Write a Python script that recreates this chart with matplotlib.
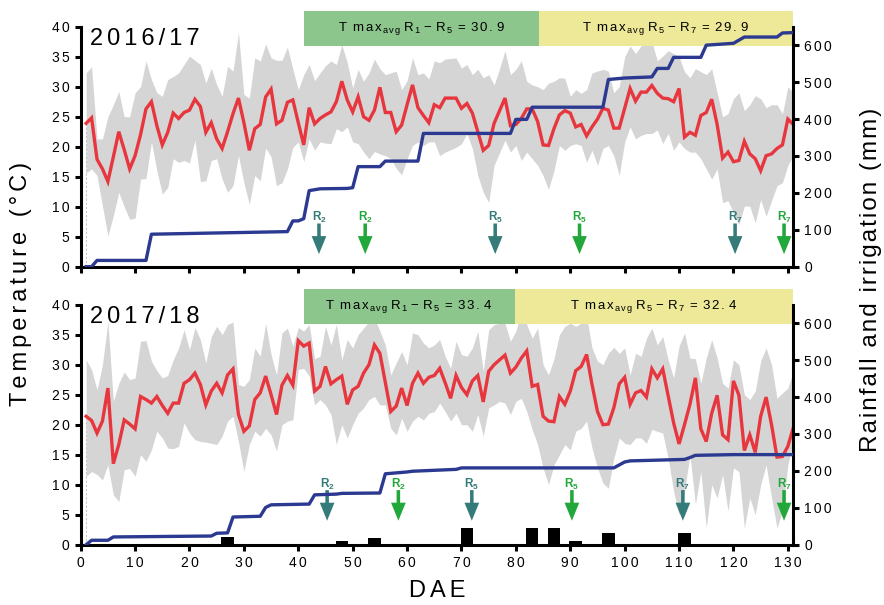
import numpy as np
import matplotlib
matplotlib.use("Agg")
import matplotlib.pyplot as plt
from matplotlib.patches import Rectangle, FancyArrow

plt.rcParams["font.family"] = ["Liberation Sans", "DejaVu Sans"]
plt.rcParams["mathtext.fontset"] = "custom"
plt.rcParams["mathtext.rm"] = "Liberation Sans"
plt.rcParams["mathtext.bf"] = "Liberation Sans:bold"
plt.rcParams["mathtext.it"] = "Liberation Sans:italic"

# ---------------------------------------------------------------------------
# Data
# ---------------------------------------------------------------------------
days = np.arange(1, 132)

# 2016/17 mean temperature and max/min envelope (deg C)
tmean_1617 = [23.9, 24.8, 17.9, 16.3, 14.2, 18.3, 22.5, 19.5, 16.3, 18.5,
              22.0, 26.3, 27.5, 23.5, 20.3, 22.4, 25.6, 24.7, 25.7, 26.1,
              27.9, 26.7, 22.4, 24.0, 21.3, 19.7, 22.5, 25.5, 28.1, 24.0,
              19.4, 23.0, 23.7, 28.3, 29.6, 23.8, 24.4, 27.4, 27.8, 24.0,
              20.3, 26.5, 23.8, 24.7, 25.3, 25.8, 27.5, 30.9, 27.8, 25.8,
              28.3, 25.0, 24.4, 26.1, 29.9, 25.7, 25.7, 22.5, 23.6, 27.0,
              30.3, 26.5, 25.2, 24.0, 27.0, 26.5, 28.1, 28.1, 28.1, 26.4,
              27.2, 25.6, 22.5, 19.4, 20.2, 23.9, 26.0, 28.1, 23.5, 23.7,
              24.7, 26.3, 26.3, 24.2, 20.3, 20.2, 23.0, 25.3, 26.0, 25.6,
              23.3, 23.7, 21.8, 23.3, 24.6, 26.4, 26.1, 23.1, 23.1, 26.4,
              29.7, 27.6, 29.1, 29.1, 30.2, 28.9, 28.1, 28.0, 27.5, 29.7,
              21.6, 22.4, 21.9, 25.2, 25.7, 27.9, 23.7, 18.1, 19.1, 17.5,
              17.7, 20.9, 18.8, 18.0, 16.0, 18.5, 18.8, 19.7, 20.3, 24.6, 23.7]
tmax_1617 = [32.3, 33.3, 21.3, 21.3, 25.0, 27.0, 29.2, 25.0, 25.0, 29.0,
             30.0, 34.3, 31.2, 29.0, 28.4, 31.2, 31.7, 32.3, 33.7, 35.1,
             34.4, 33.7, 30.6, 33.1, 30.3, 28.4, 33.4, 32.6, 39.0, 28.7,
             28.1, 34.8, 34.3, 37.1, 34.8, 34.4, 34.4, 36.6, 32.9, 29.5,
             32.0, 33.7, 31.0, 32.3, 33.5, 34.3, 33.7, 37.0, 34.0, 29.8,
             32.9, 30.9, 32.3, 34.6, 33.0, 32.0, 32.3, 32.6, 29.5, 31.0,
             34.8, 32.0, 32.3, 31.3, 34.3, 34.0, 34.6, 34.7, 34.8, 33.1,
             33.7, 32.0, 32.9, 31.5, 32.0, 30.3, 33.0, 36.0, 32.0, 32.9,
             34.3, 30.9, 30.3, 30.0, 29.5, 30.6, 30.9, 31.5, 31.4, 28.4,
             29.5, 28.9, 29.5, 32.3, 32.6, 32.9, 32.6, 29.0, 30.0, 35.0,
             36.8, 35.5, 36.8, 37.1, 37.5, 34.3, 35.1, 36.0, 35.5, 35.0,
             32.5, 31.5, 33.0, 32.5, 32.0, 33.0, 29.0, 25.0, 25.5, 28.0,
             29.0, 26.0, 27.0, 28.5, 28.0, 26.5, 27.0, 27.0, 25.5, 30.0, 29.0]
tmin_1617 = [15.6, 16.3, 15.2, 10.1, 5.1, 8.5, 12.4, 10.0, 7.9, 8.1,
             14.6, 14.7, 20.8, 16.0, 12.1, 13.2, 18.0, 17.4, 17.7, 17.3,
             21.1, 14.2, 14.3, 17.7, 18.0, 14.6, 12.4, 13.5, 18.5, 14.0,
             10.4, 15.2, 14.3, 19.8, 18.3, 13.5, 14.0, 16.3, 19.9, 20.8,
             17.5, 21.3, 19.4, 20.8, 20.6, 20.5, 23.0, 22.5, 23.3, 20.8,
             20.5, 19.1, 18.0, 19.2, 18.8, 18.5, 18.0, 16.4, 15.3, 18.0,
             20.2, 20.8, 20.2, 20.8, 20.8, 18.5, 19.1, 19.5, 19.9, 20.5,
             22.2, 19.7, 15.2, 12.4, 10.7, 16.9, 19.0, 21.1, 19.1, 20.2,
             17.7, 19.1, 18.0, 16.9, 15.2, 12.9, 16.0, 20.2, 19.4, 20.2,
             20.5, 20.2, 17.4, 19.4, 16.9, 19.7, 20.2, 18.5, 15.2, 20.8,
             23.3, 21.3, 21.9, 22.2, 22.2, 22.8, 20.5, 22.2, 19.4, 20.8,
             19.7, 19.1, 19.1, 18.0, 16.3, 14.6, 16.3, 10.7, 11.0, 9.0,
             7.0, 10.1, 10.1, 7.3, 11.2, 8.4, 11.0, 13.5, 14.0, 16.9, 18.5]

# 2016/17 cumulative rainfall + irrigation (mm)
cum_days_1617 = [1, 2, 3, 12, 13, 38, 39, 40, 41, 42, 44, 49, 50, 51, 55, 56, 62, 63,
                 79, 80, 82, 83, 96, 97, 100, 105, 106, 108, 109, 114, 115, 120, 122,
                 128, 129, 131]
cum_1617 = [0, 0, 17, 17, 88, 95, 124, 124, 130, 206, 211, 212, 214, 271, 271, 286,
            286, 361, 361, 399, 399, 432, 432, 507, 511, 514, 537, 537, 567, 567,
            600, 605, 622, 622, 633, 634]
rain_days_1617 = [32, 73]
rain_1617 = [3, 3]

# 2017/18
tmean_1718 = [21.4, 20.7, 18.6, 20.6, 26.1, 13.5, 16.7, 20.8, 20.1, 19.3,
              24.7, 24.2, 23.6, 24.7, 23.2, 21.9, 23.6, 23.6, 26.9, 27.5,
              28.6, 26.7, 23.3, 25.6, 26.9, 25.3, 28.3, 29.3, 21.7, 18.9,
              19.8, 24.2, 25.3, 28.1, 25.0, 21.7, 26.6, 28.2, 26.6, 34.0,
              33.1, 33.6, 25.6, 26.4, 29.7, 26.8, 27.5, 28.1, 23.4, 25.8,
              26.4, 28.6, 30.0, 33.3, 31.9, 27.0, 22.2, 23.1, 26.1, 23.2,
              26.9, 28.6, 26.9, 27.9, 28.2, 29.4, 27.0, 24.4, 28.2, 26.2,
              25.0, 27.3, 28.2, 23.8, 28.9, 30.0, 30.8, 31.6, 28.6, 29.6,
              31.1, 32.3, 26.4, 26.7, 21.4, 20.6, 20.5, 24.7, 23.4, 25.6,
              29.0, 29.7, 31.7, 26.7, 22.2, 20.0, 20.1, 22.8, 26.8, 27.9,
              23.4, 25.3, 25.7, 24.6, 29.3, 27.8, 29.3, 24.8, 20.3, 16.8,
              20.0, 23.4, 27.8, 19.3, 17.2, 21.9, 24.9, 18.3, 17.5, 27.3,
              24.9, 15.7, 18.3, 15.4, 21.4, 24.6, 20.0, 14.6, 14.7, 16.4, 19.5]
tmax_1718 = [30.8, 29.2, 25.8, 30.0, 37.2, 23.9, 26.9, 28.8, 27.5, 27.8,
             33.9, 34.0, 30.6, 29.0, 27.8, 28.2, 30.8, 32.8, 35.8, 32.5,
             36.2, 34.2, 30.3, 34.7, 36.4, 35.0, 36.7, 37.1, 26.7, 26.4,
             27.5, 32.8, 31.4, 36.9, 31.7, 28.3, 35.3, 36.1, 33.1, 36.2,
             35.6, 36.7, 31.0, 31.4, 36.4, 33.3, 36.7, 30.8, 34.2, 32.8,
             35.0, 36.1, 37.2, 37.8, 35.6, 33.3, 28.3, 30.3, 32.2, 30.0,
             35.3, 35.0, 33.6, 32.8, 33.3, 34.2, 31.4, 29.4, 33.9, 31.7,
             31.4, 32.8, 35.6, 28.9, 35.8, 36.7, 36.9, 36.9, 33.9, 35.6,
             38.9, 36.7, 34.4, 36.1, 30.0, 28.3, 31.0, 35.0, 36.4, 36.9,
             36.4, 36.9, 38.0, 32.8, 30.6, 30.0, 31.9, 32.9, 31.9, 32.8,
             28.3, 31.9, 31.4, 34.4, 36.1, 33.3, 34.7, 30.8, 27.8, 33.1,
             35.3, 31.1, 31.0, 26.9, 31.1, 34.2, 31.1, 26.9, 26.1, 30.8,
             30.0, 25.0, 24.2, 25.6, 30.6, 32.8, 30.0, 24.4, 25.3, 26.1, 28.9]
tmin_1718 = [11.4, 12.2, 11.7, 10.8, 13.3, 8.3, 7.2, 12.5, 12.7, 11.4,
             15.0, 13.9, 15.8, 18.9, 17.8, 16.1, 16.0, 16.4, 20.3, 18.6,
             17.5, 17.2, 17.1, 16.9, 16.7, 18.1, 20.6, 21.4, 17.2, 12.2,
             16.7, 18.9, 18.1, 19.4, 18.3, 15.6, 20.0, 20.6, 20.8, 29.2,
             29.4, 28.1, 23.3, 24.2, 23.3, 21.7, 16.7, 20.0, 17.8, 20.0,
             21.9, 22.8, 24.2, 24.7, 23.3, 23.3, 19.4, 18.3, 21.1, 18.9,
             20.6, 21.4, 20.8, 21.9, 22.2, 23.6, 22.2, 20.6, 21.9, 20.0,
             20.0, 18.9, 21.7, 18.1, 22.8, 23.3, 23.9, 23.6, 21.7, 23.9,
             24.4, 22.2, 19.2, 16.7, 12.8, 10.0, 13.3, 15.0, 16.7, 15.8,
             18.9, 19.4, 20.6, 16.1, 12.8, 10.3, 9.4, 14.4, 17.8, 16.9,
             16.7, 17.8, 17.8, 16.9, 19.2, 18.9, 18.6, 14.4, 8.9, 5.0,
             8.9, 15.0, 6.7, 12.2, 2.8, 10.0, 7.8, 11.7, 5.6, 12.8,
             12.2, 2.8, 7.8, 5.0, 10.0, 13.3, 7.8, 2.8, 5.6, 13.3, 17.2]

cum_days_1718 = [1, 2, 5, 6, 24, 25, 27, 28, 33, 34, 35, 42, 43, 47, 48, 55, 56, 60,
                 61, 69, 70, 98, 100, 101, 111, 112, 113, 120, 131]
cum_1718 = [0, 12, 12, 21, 23.5, 31, 32, 75, 77, 101, 108, 110, 135, 137, 139, 140,
            192, 197, 199, 204, 208, 208, 224, 227, 231, 236, 242, 244, 244]
rain_days_1718 = [27, 48, 54, 71, 83, 87, 91, 97, 111]
rain_1718 = [21, 9.5, 17, 45, 44, 44, 9.5, 33, 33]

# Phenological stages (arrows)
stage_labels = ["2", "2", "5", "5", "7", "7"]
stage_days_1617 = [43.8, 52.3, 76.2, 91.7, 120.3, 129.3]
stage_days_1718 = [45.3, 58.4, 71.9, 90.3, 110.7, 129.3]

# Header boxes: period edges (DAE) and average Tmax
periods_1617 = [41.0, 84.2, 131]
periods_1718 = [41.0, 79.8, 131]
tmax_avg_1617 = ["30.9", "29.9"]
tmax_avg_1718 = ["33.4", "32.4"]

# ---------------------------------------------------------------------------
# Style
# ---------------------------------------------------------------------------
RED = "#e8363e"
BLUE = "#2b3990"
GRAY = "#d5d5d5"
TEAL = "#357b7a"
GREEN = "#22a83a"
BOX_GREEN = "#8dc68d"
BOX_YELLOW = "#ede999"
HS = "\u200a\u200a"  # letter spacing
LW_SPINE = 2.2


def spaced(s, sep=HS):
    return sep.join(s)


def box_text(a, b, val):
    v = r"\,".join(val)
    return (r"$\mathrm{T\;\;m\,a\,x}_{\,\mathrm{a\,v\,g}}\;\mathrm{R}_{\,%s}\mathrm{\,-\,R}_{\,%s}"
            r"\;\mathrm{=}\;\mathrm{%s}$" % (a, b, v))


def draw_panel(ax, tmean, tmax, tmin, cum_days, cum, rain_days, rain, stage_days,
               periods, avgs, season, arrow_tip, show_xlabels):
    ax.set_xlim(0, 131)
    ax.set_ylim(0, 40)

    ax.fill_between(days, tmin, tmax, color=GRAY, lw=0, zorder=1)
    ax.vlines(days[0], 0, tmean[0], colors="#bbbbbb", linestyles=(0, (3, 2)), lw=0.6, zorder=1)
    ax.plot(days, tmean, color=RED, lw=2.4, zorder=3, solid_joinstyle="miter")

    # header boxes
    colors = [BOX_GREEN, BOX_YELLOW]
    stages = [("1", "5"), ("5", "7")]
    for i in range(2):
        x0, x1 = periods[i], periods[i + 1]
        ax.add_patch(Rectangle((x0, 36.8), x1 - x0, 5.8, facecolor=colors[i], edgecolor="none",
                               clip_on=False, zorder=4))
        ax.text((x0 + x1) / 2, 39.7, box_text(stages[i][0], stages[i][1], avgs[i]),
                ha="center", va="center", fontsize=9.5, zorder=5, clip_on=False)

    # stage arrows
    for i, d in enumerate(stage_days):
        c = TEAL if i % 2 == 0 else GREEN
        top = arrow_tip + 5.1
        ax.add_patch(FancyArrow(d, top, 0, -(top - arrow_tip), width=0.65, head_width=2.7,
                                head_length=3.0, length_includes_head=True,
                                color=c, lw=0, zorder=5))
        ax.text(d, top + 1.0, r"$\mathbf{R}_{\mathbf{%s}}$" % stage_labels[i], color=c,
                ha="center", va="center", fontsize=8.5, zorder=5)

    ax.text(0.013, 0.925, spaced(season), transform=ax.transAxes, fontsize=17,
            va="baseline", ha="left")

    # right axis: rainfall + irrigation
    ax2 = ax.twinx()
    ax2.set_ylim(0, 650)
    ax2.bar(rain_days, rain, width=2.3, color="black", zorder=2)
    ax2.plot(cum_days, cum, color=BLUE, lw=2.4, zorder=3)

    for a in (ax, ax2):
        a.spines["top"].set_visible(False)
        for s in a.spines.values():
            s.set_linewidth(LW_SPINE)
        a.tick_params(direction="out", length=4.5, width=LW_SPINE, labelsize=10)
    ax2.spines["left"].set_visible(False)
    ax2.spines["bottom"].set_visible(False)
    ax.spines["right"].set_visible(False)

    yt = np.arange(0, 41, 5)
    ax.set_yticks(yt)
    ax.set_yticklabels([spaced(str(v)) for v in yt])
    rt = np.arange(0, 601, 100)
    ax2.set_yticks(rt)
    ax2.set_yticklabels([spaced(str(v)) for v in rt])
    xt = np.arange(0, 131, 10)
    ax.set_xticks(xt)
    if show_xlabels:
        ax.set_xticklabels([spaced(str(v)) for v in xt])
    else:
        ax.set_xticklabels([])
    return ax2


fig = plt.figure(figsize=(8.84, 6.05), dpi=100)
left, width, height = 80.7 / 884, 712.6 / 884, 240 / 605
ax_top = fig.add_axes([left, (605 - 266.7) / 605, width, height])
ax_bot = fig.add_axes([left, (605 - 544.7) / 605, width, height])

draw_panel(ax_top, tmean_1617, tmax_1617, tmin_1617, cum_days_1617, cum_1617,
           rain_days_1617, rain_1617, stage_days_1617, periods_1617, tmax_avg_1617,
           "2016/17", 2.1, False)
draw_panel(ax_bot, tmean_1718, tmax_1718, tmin_1718, cum_days_1718, cum_1718,
           rain_days_1718, rain_1718, stage_days_1718, periods_1718, tmax_avg_1718,
           "2017/18", 4.0, True)

ax_bot.set_xlabel(spaced("DAE"), fontsize=17, labelpad=7)
fig.text(0.024, 0.53, spaced("Temperature (°C)"), rotation=90, fontsize=17,
         ha="center", va="center")
fig.text(0.985, 0.537, spaced("Rainfall and irrigation (mm)", "\u200a"), rotation=90,
         fontsize=17.5, ha="center", va="center")

fig.savefig("out.png", dpi=100)
